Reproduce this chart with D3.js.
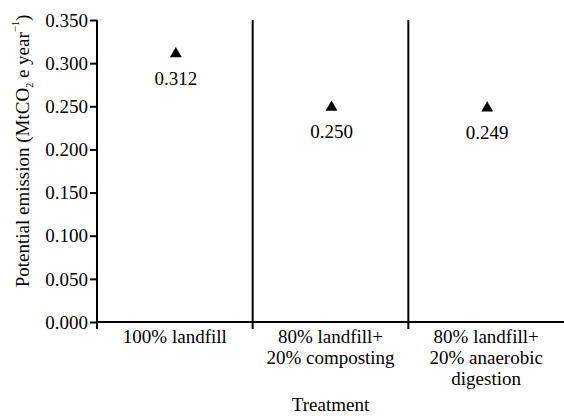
<!DOCTYPE html>
<html>
<head>
<meta charset="utf-8">
<script src="https://cdn.jsdelivr.net/npm/d3@7"></script>
<style>
body { margin: 0; background: #fff; }
text { font-family: "Liberation Serif", "Times New Roman", serif; fill: #000; }
</style>
</head>
<body>
<div id="chart"></div>
<script>
const treatments = ["100% landfill", "80% landfill+\n20% composting", "80% landfill+\n20% anaerobic\ndigestion"]
const emissions = [0.312, 0.250, 0.249]
const emissionLabels = ["0.312", "0.250", "0.249"]
const yTicks = [0, 0.05, 0.1, 0.15, 0.2, 0.25, 0.3, 0.35]

const renderChart = ({htmlComponent}) => {
    const W = 564, H = 416
    const margin = { top: 20, bottom: 94, right: 0, left: 97 }
    const fontSize = '19px'

    const svg = d3.select(htmlComponent).append('svg')
        .attr('width', W)
        .attr('height', H)

    const x = d3.scaleBand()
        .domain(treatments)
        .range([margin.left, W - margin.right])
        .padding(0)

    const y = d3.scaleLinear()
        .domain([0, 0.35])
        .range([H - margin.bottom, margin.top])

    // y axis
    const yAxis = svg.append('g')
        .attr('transform', `translate(${margin.left},0)`)
        .call(d3.axisLeft(y).tickValues(yTicks).tickFormat(d3.format('.3f')).tickSize(7).tickPadding(2))
    yAxis.attr('font-family', null)
    yAxis.select('.domain').attr('stroke-width', 2).attr('d', `M0,${y(0.35)}V${y(0) + 7}`)
    yAxis.selectAll('.tick line').attr('stroke-width', 2)
    yAxis.selectAll('.tick text').style('font-size', fontSize).attr('dy', '0.33em')

    // x axis line
    svg.append('line')
        .attr('x1', margin.left).attr('x2', W)
        .attr('y1', y(0)).attr('y2', y(0))
        .attr('stroke', '#000').attr('stroke-width', 2)

    // separators between treatments
    svg.selectAll('.sep').data(treatments.slice(1))
        .enter().append('line')
        .attr('class', 'sep')
        .attr('x1', d => x(d)).attr('x2', d => x(d))
        .attr('y1', y(0.35)).attr('y2', y(0) + 7)
        .attr('stroke', '#000').attr('stroke-width', 2)

    // category labels
    const labels = svg.selectAll('.cat').data(treatments)
        .enter().append('text')
        .attr('class', 'cat')
        .attr('text-anchor', 'middle')
        .style('font-size', fontSize)
    labels.each(function(d) {
        const lines = d.split('\n')
        d3.select(this).selectAll('tspan').data(lines)
            .enter().append('tspan')
            .attr('x', x(d) + x.bandwidth() / 2)
            .attr('y', (l, i) => y(0) + 21 + i * 21)
            .text(l => l)
    })

    // axis titles
    svg.append('text')
        .attr('x', (margin.left + W) / 2)
        .attr('y', 411)
        .attr('text-anchor', 'middle')
        .style('font-size', fontSize)
        .text('Treatment')

    const yTitle = svg.append('text')
        .attr('transform', 'translate(29,151) rotate(-90)')
        .attr('text-anchor', 'middle')
        .style('font-size', fontSize)
    yTitle.append('tspan').text('Potential emission (MtCO')
    yTitle.append('tspan').text('2').style('font-size', '10px').attr('dy', 4)
    yTitle.append('tspan').text(' e year').attr('dy', -4)
    yTitle.append('tspan').text('\u2212').style('font-size', '11px').attr('dy', -10)
    yTitle.append('tspan').text('1').style('font-size', '10px').attr('dy', 0)
    yTitle.append('tspan').text(')').attr('dy', 10)

    // markers
    const points = treatments.map((t, i) => ({ t, v: emissions[i], label: emissionLabels[i] }))
    svg.selectAll('.pt').data(points)
        .enter().append('path')
        .attr('class', 'pt')
        .attr('d', d3.symbol(d3.symbolTriangle).size(62))
        .attr('transform', d => `translate(${x(d.t) + x.bandwidth() / 2 + 1},${y(d.v) + 1})`)
        .attr('fill', '#000')

    svg.selectAll('.val').data(points)
        .enter().append('text')
        .attr('class', 'val')
        .attr('x', d => x(d.t) + x.bandwidth() / 2 + 1)
        .attr('y', d => y(d.v) + 32)
        .attr('text-anchor', 'middle')
        .style('font-size', fontSize)
        .text(d => d.label)
}

renderChart({ htmlComponent: '#chart' })
</script>
</body>
</html>
